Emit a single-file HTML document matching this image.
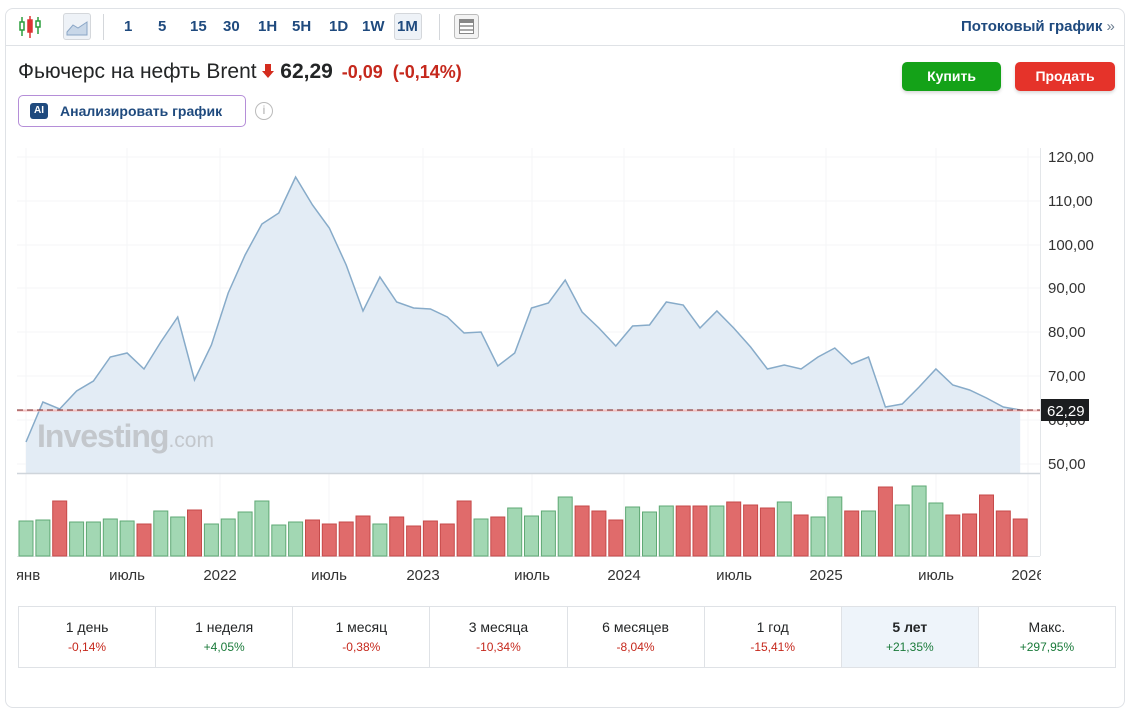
<!DOCTYPE html>
<html><head><meta charset="utf-8">
<style>
*{margin:0;padding:0;box-sizing:border-box}
body{width:1128px;height:681px;background:#fff;font-family:"Liberation Sans",sans-serif;position:relative;overflow:hidden;color:#232526}
.frame{position:absolute;left:5px;top:8px;width:1120px;height:700px;border:1px solid #dfe2e6;border-radius:8px}
.tb{position:absolute;top:45px;left:5px;width:1120px;height:1px;background:#dfe2e6}
.tf{position:absolute;top:18px;font-size:15px;font-weight:bold;color:#1f4a7e}
.sep{position:absolute;top:14px;width:1px;height:26px;background:#d4d7db}
.btn{position:absolute;top:62px;height:29px;border-radius:5px;color:#fff;font-weight:bold;font-size:14px;text-align:center;line-height:29px;box-shadow:0 2px 3px rgba(0,0,0,.15)}
.tbl{position:absolute;left:18px;top:606px;width:1098px;height:62px;border:1px solid #dfe2e6;display:flex}
.tbl div{flex:1;border-right:1px solid #dfe2e6;text-align:center;font-size:14px;padding-top:12px;color:#232526}
.tbl div:last-child{border-right:none}
.tbl span{display:block;font-size:12px;margin-top:5px}
.r{color:#c5281c}.g{color:#1a7a3a}
</style></head><body>
<div class="frame"></div>
<div class="tb"></div>
<svg style="position:absolute;left:18px;top:14px" width="24" height="26"><g stroke-width="1.5"><line x1="4" y1="3" x2="4" y2="22" stroke="#2a9d3c"/><rect x="2" y="8" width="4" height="8" fill="#fff" stroke="#2a9d3c"/><line x1="12" y1="2" x2="12" y2="24" stroke="#d33"/><rect x="10" y="6" width="4" height="12" fill="#d33" stroke="#d33"/><line x1="20" y1="3" x2="20" y2="20" stroke="#2a9d3c"/><rect x="18" y="7" width="4" height="6" fill="#fff" stroke="#2a9d3c"/></g></svg>
<div style="position:absolute;left:63px;top:13px;width:28px;height:27px;border:1px solid #d4d7db;border-radius:3px;background:#eef2f7"></div>
<svg style="position:absolute;left:66px;top:18px" width="22" height="18"><path d="M1 14 L7 7 L12 10 L21 4 L21 17 L1 17Z" fill="#c8d7e8" stroke="#8aa6c6"/></svg>
<div class="sep" style="left:103px"></div>
<div class="tf" style="left:124px">1</div>
<div class="tf" style="left:158px">5</div>
<div class="tf" style="left:190px">15</div>
<div class="tf" style="left:223px">30</div>
<div class="tf" style="left:258px">1H</div>
<div class="tf" style="left:292px">5H</div>
<div class="tf" style="left:329px">1D</div>
<div class="tf" style="left:362px">1W</div>
<div style="position:absolute;left:394px;top:13px;width:28px;height:27px;border:1px solid #d4d7db;border-radius:3px;background:#eef2f7"></div>
<div class="tf" style="left:397px">1M</div>
<div class="sep" style="left:439px"></div>
<div style="position:absolute;left:454px;top:14px;width:25px;height:25px;border:1px solid #bbb;border-radius:3px;background:#f3f3f3"><div style="margin:4px;height:15px;border:1px solid #888;background:linear-gradient(#888 0 3px,#fff 3px 5px,#aaa 5px 7px,#fff 7px 9px,#aaa 9px 11px,#fff 11px)"></div></div>
<div style="position:absolute;left:961px;top:18px;font-size:15px;font-weight:bold;color:#1f4a7e">Потоковый график <span style="color:#6b7d90;font-weight:normal">»</span></div>

<div style="position:absolute;left:18px;top:60px;font-size:21px;color:#232526;white-space:nowrap">Фьючерс на нефть Brent <svg width="12" height="14" style="vertical-align:0"><path d="M3 0 H9 V7 H12 L6 14 L0 7 H3Z" fill="#d42c1e"/></svg> <b>62,29</b> <span style="color:#c5281c;font-weight:bold;font-size:18px;margin-left:3px">-0,09 &nbsp;(-0,14%)</span></div>
<div class="btn" style="left:902px;width:99px;background:#14a218">Купить</div>
<div class="btn" style="left:1015px;width:100px;background:#e5332a">Продать</div>
<div style="position:absolute;left:18px;top:95px;width:228px;height:32px;border:1px solid #b58ed8;border-radius:5px;"></div>
<div style="position:absolute;left:30px;top:103px;width:18px;height:16px;background:#1f4a7e;border-radius:3px;color:#fff;font-size:10px;font-weight:bold;text-align:center;line-height:16px">AI</div>
<div style="position:absolute;left:60px;top:103px;font-size:14px;font-weight:bold;color:#1f4a7e">Анализировать график</div>
<div style="position:absolute;left:255px;top:102px;width:18px;height:18px;border:1.5px solid #bbb;border-radius:50%;color:#aaa;font-size:12px;text-align:center;line-height:15px">i</div>

<svg style="position:absolute;left:0;top:0" width="1128" height="600">
<g stroke="#f4f5f7" stroke-width="1">
<line x1="17" y1="157" x2="1040" y2="157"/><line x1="17" y1="201" x2="1040" y2="201"/><line x1="17" y1="245" x2="1040" y2="245"/><line x1="17" y1="288" x2="1040" y2="288"/><line x1="17" y1="332" x2="1040" y2="332"/><line x1="17" y1="376" x2="1040" y2="376"/><line x1="17" y1="420" x2="1040" y2="420"/><line x1="17" y1="464" x2="1040" y2="464"/>
<line x1="26" y1="148" x2="26" y2="556"/><line x1="127" y1="148" x2="127" y2="556"/><line x1="220" y1="148" x2="220" y2="556"/><line x1="329" y1="148" x2="329" y2="556"/><line x1="423" y1="148" x2="423" y2="556"/><line x1="532" y1="148" x2="532" y2="556"/><line x1="624" y1="148" x2="624" y2="556"/><line x1="734" y1="148" x2="734" y2="556"/><line x1="826" y1="148" x2="826" y2="556"/><line x1="936" y1="148" x2="936" y2="556"/><line x1="1028" y1="148" x2="1028" y2="556"/>
</g>
<path d="M26 442 L42.9 402 L59.7 409 L76.6 391 L93.4 381 L110.3 357 L127.1 353 L144 369 L160.8 342 L177.7 317 L194.5 380 L211.4 345 L228.2 293 L245.1 255 L261.9 224 L278.8 213 L295.6 177 L312.5 205 L329.3 228 L346.2 265 L363 311 L379.9 277 L396.7 302 L413.6 308 L430.4 309 L447.3 317 L464.1 333 L481 332 L497.8 366 L514.7 353 L531.5 308 L548.4 303 L565.2 280 L582.1 312 L598.9 328 L615.8 346 L632.6 326 L649.5 325 L666.3 302 L683.2 305 L700 328 L716.9 311 L733.7 328 L750.6 347 L767.4 369 L784.3 365 L801.1 369 L818 357 L834.8 348 L851.7 364 L868.5 357 L885.4 407 L902.2 404 L919.1 387 L935.9 369 L952.8 385 L969.6 390 L986.5 398 L1003.3 407 L1020.2 410 L1020.2 473 L26 473 Z" fill="#e3ecf5"/>
<text x="37" y="447" font-size="32" font-weight="bold" fill="#c3c7cc" font-family="Liberation Sans" letter-spacing="-1">Investing<tspan font-size="21" font-weight="normal" letter-spacing="0">.com</tspan></text>
<path d="M26 442 L42.9 402 L59.7 409 L76.6 391 L93.4 381 L110.3 357 L127.1 353 L144 369 L160.8 342 L177.7 317 L194.5 380 L211.4 345 L228.2 293 L245.1 255 L261.9 224 L278.8 213 L295.6 177 L312.5 205 L329.3 228 L346.2 265 L363 311 L379.9 277 L396.7 302 L413.6 308 L430.4 309 L447.3 317 L464.1 333 L481 332 L497.8 366 L514.7 353 L531.5 308 L548.4 303 L565.2 280 L582.1 312 L598.9 328 L615.8 346 L632.6 326 L649.5 325 L666.3 302 L683.2 305 L700 328 L716.9 311 L733.7 328 L750.6 347 L767.4 369 L784.3 365 L801.1 369 L818 357 L834.8 348 L851.7 364 L868.5 357 L885.4 407 L902.2 404 L919.1 387 L935.9 369 L952.8 385 L969.6 390 L986.5 398 L1003.3 407 L1020.2 410" fill="none" stroke="#87abc9" stroke-width="1.5"/>
<line x1="17" y1="410.5" x2="1040" y2="410.5" stroke="#f3c0c0" stroke-width="2"/>
<line x1="17" y1="410" x2="1040" y2="410" stroke="#7a2020" stroke-width="1" stroke-dasharray="6,4"/>
<line x1="17" y1="473.5" x2="1040" y2="473.5" stroke="#cfd5db" stroke-width="1.5"/>
<line x1="1040.5" y1="148" x2="1040.5" y2="556" stroke="#e3e6e9"/>
<line x1="17" y1="556.5" x2="1040" y2="556.5" stroke="#e3e6e9"/>
<g font-size="15" fill="#333" font-family="Liberation Sans">
<text x="1048" y="162">120,00</text><text x="1048" y="206">110,00</text><text x="1048" y="250">100,00</text><text x="1048" y="293">90,00</text><text x="1048" y="337">80,00</text><text x="1048" y="381">70,00</text><text x="1048" y="425">60,00</text><text x="1048" y="469">50,00</text>
</g>
<rect x="1041" y="399" width="48" height="22" fill="#1b1d1f"/>
<text x="1047" y="416" font-size="15" fill="#fff" font-family="Liberation Sans">62,29</text>
<g stroke-width="1">
<rect x="19" y="521" width="14" height="35" fill="#a2d7b3" stroke="#5fa874"/>
<rect x="35.9" y="520" width="14" height="36" fill="#a2d7b3" stroke="#5fa874"/>
<rect x="52.7" y="501" width="14" height="55" fill="#e06b6b" stroke="#c64a4a"/>
<rect x="69.6" y="522" width="14" height="34" fill="#a2d7b3" stroke="#5fa874"/>
<rect x="86.4" y="522" width="14" height="34" fill="#a2d7b3" stroke="#5fa874"/>
<rect x="103.3" y="519" width="14" height="37" fill="#a2d7b3" stroke="#5fa874"/>
<rect x="120.1" y="521" width="14" height="35" fill="#a2d7b3" stroke="#5fa874"/>
<rect x="137" y="524" width="14" height="32" fill="#e06b6b" stroke="#c64a4a"/>
<rect x="153.8" y="511" width="14" height="45" fill="#a2d7b3" stroke="#5fa874"/>
<rect x="170.7" y="517" width="14" height="39" fill="#a2d7b3" stroke="#5fa874"/>
<rect x="187.5" y="510" width="14" height="46" fill="#e06b6b" stroke="#c64a4a"/>
<rect x="204.4" y="524" width="14" height="32" fill="#a2d7b3" stroke="#5fa874"/>
<rect x="221.2" y="519" width="14" height="37" fill="#a2d7b3" stroke="#5fa874"/>
<rect x="238.1" y="512" width="14" height="44" fill="#a2d7b3" stroke="#5fa874"/>
<rect x="254.9" y="501" width="14" height="55" fill="#a2d7b3" stroke="#5fa874"/>
<rect x="271.8" y="525" width="14" height="31" fill="#a2d7b3" stroke="#5fa874"/>
<rect x="288.6" y="522" width="14" height="34" fill="#a2d7b3" stroke="#5fa874"/>
<rect x="305.5" y="520" width="14" height="36" fill="#e06b6b" stroke="#c64a4a"/>
<rect x="322.3" y="524" width="14" height="32" fill="#e06b6b" stroke="#c64a4a"/>
<rect x="339.2" y="522" width="14" height="34" fill="#e06b6b" stroke="#c64a4a"/>
<rect x="356" y="516" width="14" height="40" fill="#e06b6b" stroke="#c64a4a"/>
<rect x="372.9" y="524" width="14" height="32" fill="#a2d7b3" stroke="#5fa874"/>
<rect x="389.7" y="517" width="14" height="39" fill="#e06b6b" stroke="#c64a4a"/>
<rect x="406.6" y="526" width="14" height="30" fill="#e06b6b" stroke="#c64a4a"/>
<rect x="423.4" y="521" width="14" height="35" fill="#e06b6b" stroke="#c64a4a"/>
<rect x="440.3" y="524" width="14" height="32" fill="#e06b6b" stroke="#c64a4a"/>
<rect x="457.1" y="501" width="14" height="55" fill="#e06b6b" stroke="#c64a4a"/>
<rect x="474" y="519" width="14" height="37" fill="#a2d7b3" stroke="#5fa874"/>
<rect x="490.8" y="517" width="14" height="39" fill="#e06b6b" stroke="#c64a4a"/>
<rect x="507.7" y="508" width="14" height="48" fill="#a2d7b3" stroke="#5fa874"/>
<rect x="524.5" y="516" width="14" height="40" fill="#a2d7b3" stroke="#5fa874"/>
<rect x="541.4" y="511" width="14" height="45" fill="#a2d7b3" stroke="#5fa874"/>
<rect x="558.2" y="497" width="14" height="59" fill="#a2d7b3" stroke="#5fa874"/>
<rect x="575.1" y="506" width="14" height="50" fill="#e06b6b" stroke="#c64a4a"/>
<rect x="591.9" y="511" width="14" height="45" fill="#e06b6b" stroke="#c64a4a"/>
<rect x="608.8" y="520" width="14" height="36" fill="#e06b6b" stroke="#c64a4a"/>
<rect x="625.6" y="507" width="14" height="49" fill="#a2d7b3" stroke="#5fa874"/>
<rect x="642.5" y="512" width="14" height="44" fill="#a2d7b3" stroke="#5fa874"/>
<rect x="659.3" y="506" width="14" height="50" fill="#a2d7b3" stroke="#5fa874"/>
<rect x="676.2" y="506" width="14" height="50" fill="#e06b6b" stroke="#c64a4a"/>
<rect x="693" y="506" width="14" height="50" fill="#e06b6b" stroke="#c64a4a"/>
<rect x="709.9" y="506" width="14" height="50" fill="#a2d7b3" stroke="#5fa874"/>
<rect x="726.7" y="502" width="14" height="54" fill="#e06b6b" stroke="#c64a4a"/>
<rect x="743.6" y="505" width="14" height="51" fill="#e06b6b" stroke="#c64a4a"/>
<rect x="760.4" y="508" width="14" height="48" fill="#e06b6b" stroke="#c64a4a"/>
<rect x="777.3" y="502" width="14" height="54" fill="#a2d7b3" stroke="#5fa874"/>
<rect x="794.1" y="515" width="14" height="41" fill="#e06b6b" stroke="#c64a4a"/>
<rect x="811" y="517" width="14" height="39" fill="#a2d7b3" stroke="#5fa874"/>
<rect x="827.8" y="497" width="14" height="59" fill="#a2d7b3" stroke="#5fa874"/>
<rect x="844.7" y="511" width="14" height="45" fill="#e06b6b" stroke="#c64a4a"/>
<rect x="861.5" y="511" width="14" height="45" fill="#a2d7b3" stroke="#5fa874"/>
<rect x="878.4" y="487" width="14" height="69" fill="#e06b6b" stroke="#c64a4a"/>
<rect x="895.2" y="505" width="14" height="51" fill="#a2d7b3" stroke="#5fa874"/>
<rect x="912.1" y="486" width="14" height="70" fill="#a2d7b3" stroke="#5fa874"/>
<rect x="928.9" y="503" width="14" height="53" fill="#a2d7b3" stroke="#5fa874"/>
<rect x="945.8" y="515" width="14" height="41" fill="#e06b6b" stroke="#c64a4a"/>
<rect x="962.6" y="514" width="14" height="42" fill="#e06b6b" stroke="#c64a4a"/>
<rect x="979.5" y="495" width="14" height="61" fill="#e06b6b" stroke="#c64a4a"/>
<rect x="996.3" y="511" width="14" height="45" fill="#e06b6b" stroke="#c64a4a"/>
<rect x="1013.2" y="519" width="14" height="37" fill="#e06b6b" stroke="#c64a4a"/>
</g>
<g font-size="15" fill="#333" font-family="Liberation Sans" text-anchor="middle">
<text x="28" y="580">янв</text><text x="127" y="580">июль</text><text x="220" y="580">2022</text><text x="329" y="580">июль</text><text x="423" y="580">2023</text><text x="532" y="580">июль</text><text x="624" y="580">2024</text><text x="734" y="580">июль</text><text x="826" y="580">2025</text><text x="936" y="580">июль</text><text x="1028" y="580">2026</text>
</g>
<rect x="6" y="560" width="11" height="30" fill="#fff"/>
<rect x="1041" y="560" width="30" height="30" fill="#fff"/>
</svg>
<div class="tbl">
<div>1 день<span class="r">-0,14%</span></div>
<div>1 неделя<span class="g">+4,05%</span></div>
<div>1 месяц<span class="r">-0,38%</span></div>
<div>3 месяца<span class="r">-10,34%</span></div>
<div>6 месяцев<span class="r">-8,04%</span></div>
<div>1 год<span class="r">-15,41%</span></div>
<div style="background:#eef4fa;font-weight:bold">5 лет<span class="g" style="font-weight:normal">+21,35%</span></div>
<div>Макс.<span class="g">+297,95%</span></div>
</div>
</body></html>
